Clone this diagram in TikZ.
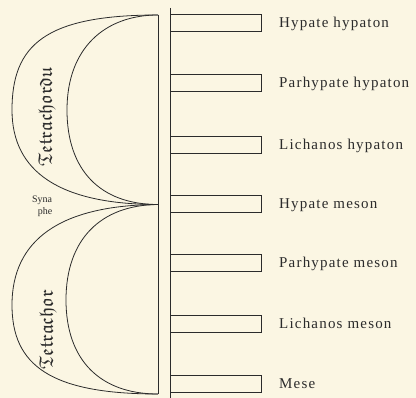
\documentclass[tikz,border=0pt]{standalone}
\usepackage{amssymb}
\usepackage{fontspec}
\setmainfont{Liberation Serif}
\newfontfamily\stringfont[LetterSpace=8]{Liberation Serif}
\usetikzlibrary{positioning}
\definecolor{paper}{HTML}{FBF6E3}
\definecolor{ink}{HTML}{2B2B2B}

\begin{document}
\begin{tikzpicture}[x=1pt,y=-1pt,line width=0.8pt,color=ink,
  bar/.style={draw,rectangle,minimum width=91pt,minimum height=17pt,
    anchor=west,inner sep=0pt},
  string/.style={font=\stringfont\fontsize{15}{15}\selectfont,
    anchor=base west,inner sep=0pt},
  band/.style={rotate=90,inner sep=0pt,font=\fontsize{19.5}{19.5}\selectfont},
  tiny/.style={inner sep=0pt,font=\fontsize{10}{10}\selectfont}]
  \useasboundingbox (0,0) rectangle (416,398);
  \fill[paper] (0,0) rectangle (416,398);
  % the two tetrachords
  \coordinate (top) at (158,15);
  \coordinate (syn) at (158,204.5);
  \coordinate (bot) at (158,394);
  \draw (top) .. controls (45,15) and (12,45) .. (12,110)
              .. controls (12,172) and (60,204.5) .. (syn);
  \draw (top) .. controls (105,15) and (67,48) .. (67,110)
              .. controls (67,170) and (100,204.5) .. (syn);
  \draw (syn) .. controls (60,205) and (12,240) .. (12,305)
              .. controls (12,365) and (50,394) .. (bot);
  \draw (syn) .. controls (100,205) and (66,240) .. (66,300)
              .. controls (66,360) and (100,394) .. (bot);
  \draw (top) -- (bot);
  \node[band] (upper) at (47,117) {$\mathfrak{Tetrachordu}$};
  \node[band] (lower) at (48,330) {$\mathfrak{Tetrachor}$};
  \node[tiny] (syna) at (42,200) {Syna};
  \node[tiny,below=2pt of syna,xshift=3pt] (phe) {phe};
  % strings
  \coordinate (rtop) at (170,8);
  \coordinate (rbot) at (170,398);
  \draw (rtop) -- (rbot);
  \foreach \y/\lab/\nm in {23/Hypate hypaton/hh,82.5/Parhypate hypaton/ph,
      144.5/Lichanos hypaton/lh,204/Hypate meson/hm,262.5/Parhypate meson/pm,
      324/Lichanos meson/lm,383.5/Mese/me}{
    \node[bar] (bar\nm) at (170,\y) {};
    \node[string] (lab\nm) at ([xshift=17pt,yshift=-5pt]bar\nm.east) {\lab};
  }
\end{tikzpicture}
\end{document}
